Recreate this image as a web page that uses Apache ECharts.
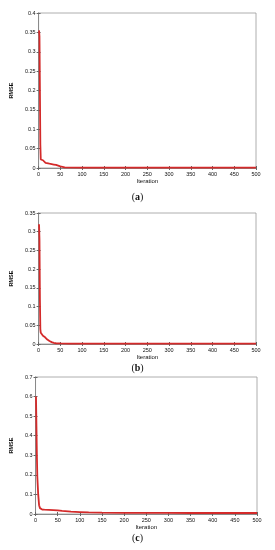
<!DOCTYPE html>
<html><head><meta charset="utf-8">
<script src="https://cdn.jsdelivr.net/npm/echarts@6/dist/echarts.min.js"></script>
<style>html,body{margin:0;padding:0;background:#fff}#c{width:275px;height:550px}</style>
</head><body><div id="c"></div>
<script>
const iterA = [1, 2, 3, 4, 5, 6, 8, 10, 12, 14, 16, 20, 25, 30, 35, 40, 45, 50, 52, 60, 100, 200, 300, 400, 500];
const rmseA = [0.355, 0.34, 0.2, 0.06, 0.022, 0.021, 0.021, 0.02, 0.019, 0.016, 0.013, 0.012, 0.011, 0.01, 0.009, 0.008, 0.006, 0.004, 0.002, 0.0015, 0.0012, 0.0012, 0.0012, 0.0012, 0.0012];
const iterB = [1, 2, 3, 4, 5, 7, 10, 12, 15, 18, 20, 25, 30, 35, 40, 50, 70, 100, 200, 300, 400, 500];
const rmseB = [0.32, 0.28, 0.12, 0.04, 0.03, 0.025, 0.022, 0.02, 0.018, 0.014, 0.012, 0.008, 0.005, 0.003, 0.002, 0.0015, 0.0012, 0.001, 0.0008, 0.0008, 0.0008, 0.0008];
const iterC = [1, 2, 3, 4, 6, 8, 10, 12, 15, 20, 30, 40, 50, 60, 80, 100, 120, 150, 200, 300, 350, 400, 500];
const rmseC = [0.6, 0.45, 0.3, 0.19, 0.1, 0.045, 0.03, 0.025, 0.023, 0.022, 0.021, 0.02, 0.019, 0.016, 0.012, 0.01, 0.008, 0.007, 0.006, 0.006, 0.005, 0.005, 0.005];
const xTicks = {min: 0, max: 500, interval: 50};
const yTicksA = {min: 0, max: 0.4, interval: 0.05};
const yTicksB = {min: 0, max: 0.35, interval: 0.05};
const yTicksC = {min: 0, max: 0.7, interval: 0.1};
const captions = ['a', 'b', 'c'];

const lineColor = '#d42a2a';
const grids = [
  {left: 23, right: 19, top: 13, height: 155},
  {left: 22, right: 19, top: 213, height: 131},
  {left: 21, right: 18, top: 377, height: 137}
];
const yTicks = [yTicksA, yTicksB, yTicksC];
const series = [[iterA, rmseA], [iterB, rmseB], [iterC, rmseC]];
const labelStyle = {fontSize: 5.5, color: '#111', fontFamily: 'Arial, Liberation Sans, sans-serif'};
const axisLineStyle = {lineStyle: {color: '#888', width: 0.8}};

const option = {
  animation: false,
  backgroundColor: '#fff',
  grid: grids.map(g => Object.assign({show: true, borderColor: '#999', borderWidth: 0.8, backgroundColor: '#fff'}, g)),
  xAxis: [], yAxis: [], series: [], graphic: []
};
grids.forEach((g, i) => {
  option.xAxis.push({type: 'value', gridIndex: i, min: xTicks.min, max: xTicks.max, interval: xTicks.interval,
    name: 'Iteration', nameLocation: 'middle', nameGap: 10, nameTextStyle: Object.assign({}, labelStyle, {fontSize: 6}),
    axisLine: axisLineStyle, axisTick: {inside: true, length: 2, lineStyle: {color: '#666'}},
    axisLabel: Object.assign({margin: 3}, labelStyle), splitLine: {show: false}});
  option.xAxis.push({type: 'value', gridIndex: i, position: 'top', min: xTicks.min, max: xTicks.max, interval: xTicks.interval,
    axisLine: axisLineStyle, axisTick: {inside: true, length: 2, lineStyle: {color: '#666'}},
    axisLabel: {show: false}, splitLine: {show: false}});
  const yt = yTicks[i];
  option.yAxis.push({type: 'value', gridIndex: i, min: yt.min, max: yt.max, interval: yt.interval,
    name: 'RMSE', nameLocation: 'middle', nameGap: 14, nameRotate: 90,
    nameTextStyle: Object.assign({}, labelStyle, {fontSize: 5.5, fontWeight: 'bold'}),
    axisLine: axisLineStyle, axisTick: {inside: true, length: 2, lineStyle: {color: '#666'}},
    axisLabel: Object.assign({margin: 3}, labelStyle), splitLine: {show: false}});
  option.yAxis.push({type: 'value', gridIndex: i, position: 'right', min: yt.min, max: yt.max, interval: yt.interval,
    axisLine: axisLineStyle, axisTick: {inside: true, length: 2, lineStyle: {color: '#666'}},
    axisLabel: {show: false}, splitLine: {show: false}});
  const [xs, ys] = series[i];
  option.series.push({type: 'line', xAxisIndex: 2 * i, yAxisIndex: 2 * i, showSymbol: false, symbol: 'none',
    lineStyle: {color: lineColor, width: 1.8}, data: xs.map((x, k) => [x, ys[k]])});
});
const capY = [198, 369, 539];
captions.forEach((c, i) => {
  option.graphic.push({type: 'text', left: 'center', top: capY[i] - 6,
    style: {text: '({b|' + c + '})', font: '10px "Liberation Serif", serif', fill: '#111',
      rich: {b: {fontWeight: 'bold', fontSize: 10, fontFamily: 'Liberation Serif'}}}});
});
const chart = echarts.init(document.getElementById('c'), null, {renderer: 'canvas'});
chart.setOption(option);
</script></body></html>
